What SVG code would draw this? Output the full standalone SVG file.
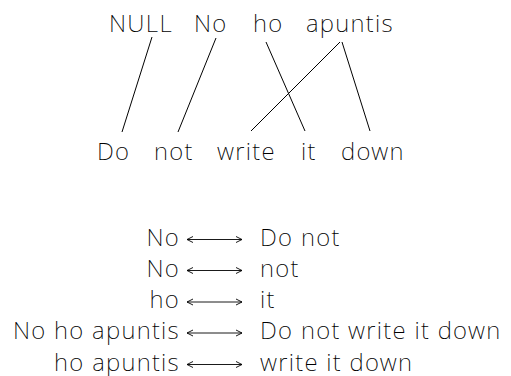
<svg xmlns="http://www.w3.org/2000/svg" width="511" height="376" viewBox="0 0 511 376">
  <defs>
    <style>
      text { font-family: "Noto Sans", "DejaVu Sans", sans-serif; font-weight: 200; font-size: 24px; letter-spacing: 1.3px; fill: #000; }
      .r { text-anchor: end; }
      .link { stroke: #000; stroke-width: 1; fill: none; }
      .pair { stroke: #000; stroke-width: 0.9; fill: none; }
    </style>
    <marker id="head" viewBox="0 0 8 8" refX="7" refY="4" markerWidth="8" markerHeight="8" markerUnits="userSpaceOnUse" orient="auto-start-reverse">
      <path d="M1 1 L7 4 L1 7" fill="none" stroke="#000" stroke-width="0.9"/>
    </marker>
  </defs>

  <rect width="511" height="376" fill="#fff"/>

  <!-- source words -->
  <g id="src-null"><text x="109" y="32">NULL</text></g>
  <g id="src-no"><text x="194" y="32">No</text></g>
  <g id="src-ho"><text x="253" y="32">ho</text></g>
  <g id="src-apuntis"><text x="306" y="32">apuntis</text></g>

  <!-- target words -->
  <g id="tgt-do"><text x="97" y="159.5">Do</text></g>
  <g id="tgt-not"><text x="154" y="159.5">not</text></g>
  <g id="tgt-write"><text x="217" y="159.5">write</text></g>
  <g id="tgt-it"><text x="301" y="159.5">it</text></g>
  <g id="tgt-down"><text x="341" y="159.5">down</text></g>

  <!-- word alignments -->
  <g id="alignments">
    <line class="link" x1="152" y1="37" x2="122" y2="132"/>
    <line class="link" x1="216" y1="38" x2="178" y2="132"/>
    <line class="link" x1="266" y1="42" x2="305" y2="131"/>
    <line class="link" x1="340" y1="42" x2="251" y2="131"/>
    <line class="link" x1="342" y1="42" x2="370" y2="131"/>
  </g>

  <!-- extracted phrase pairs -->
  <g id="phrase-pairs">
    <g id="pair-1">
      <text class="r" x="180" y="245.5">No</text>
      <line class="pair" x1="187" y1="239.5" x2="242" y2="239.5" marker-start="url(#head)" marker-end="url(#head)"/>
      <text x="260" y="245.5">Do not</text>
    </g>
    <g id="pair-2">
      <text class="r" x="180" y="276.5">No</text>
      <line class="pair" x1="187" y1="270.5" x2="242" y2="270.5" marker-start="url(#head)" marker-end="url(#head)"/>
      <text x="260" y="276.5">not</text>
    </g>
    <g id="pair-3">
      <text class="r" x="180" y="308">ho</text>
      <line class="pair" x1="187" y1="302" x2="242" y2="302" marker-start="url(#head)" marker-end="url(#head)"/>
      <text x="260" y="308">it</text>
    </g>
    <g id="pair-4">
      <text class="r" x="180" y="339">No ho apuntis</text>
      <line class="pair" x1="187" y1="333" x2="242" y2="333" marker-start="url(#head)" marker-end="url(#head)"/>
      <text x="260" y="339">Do not write it down</text>
    </g>
    <g id="pair-5">
      <text class="r" x="180" y="370.5">ho apuntis</text>
      <line class="pair" x1="187" y1="364.5" x2="242" y2="364.5" marker-start="url(#head)" marker-end="url(#head)"/>
      <text x="260" y="370.5">write it down</text>
    </g>
  </g>
</svg>
